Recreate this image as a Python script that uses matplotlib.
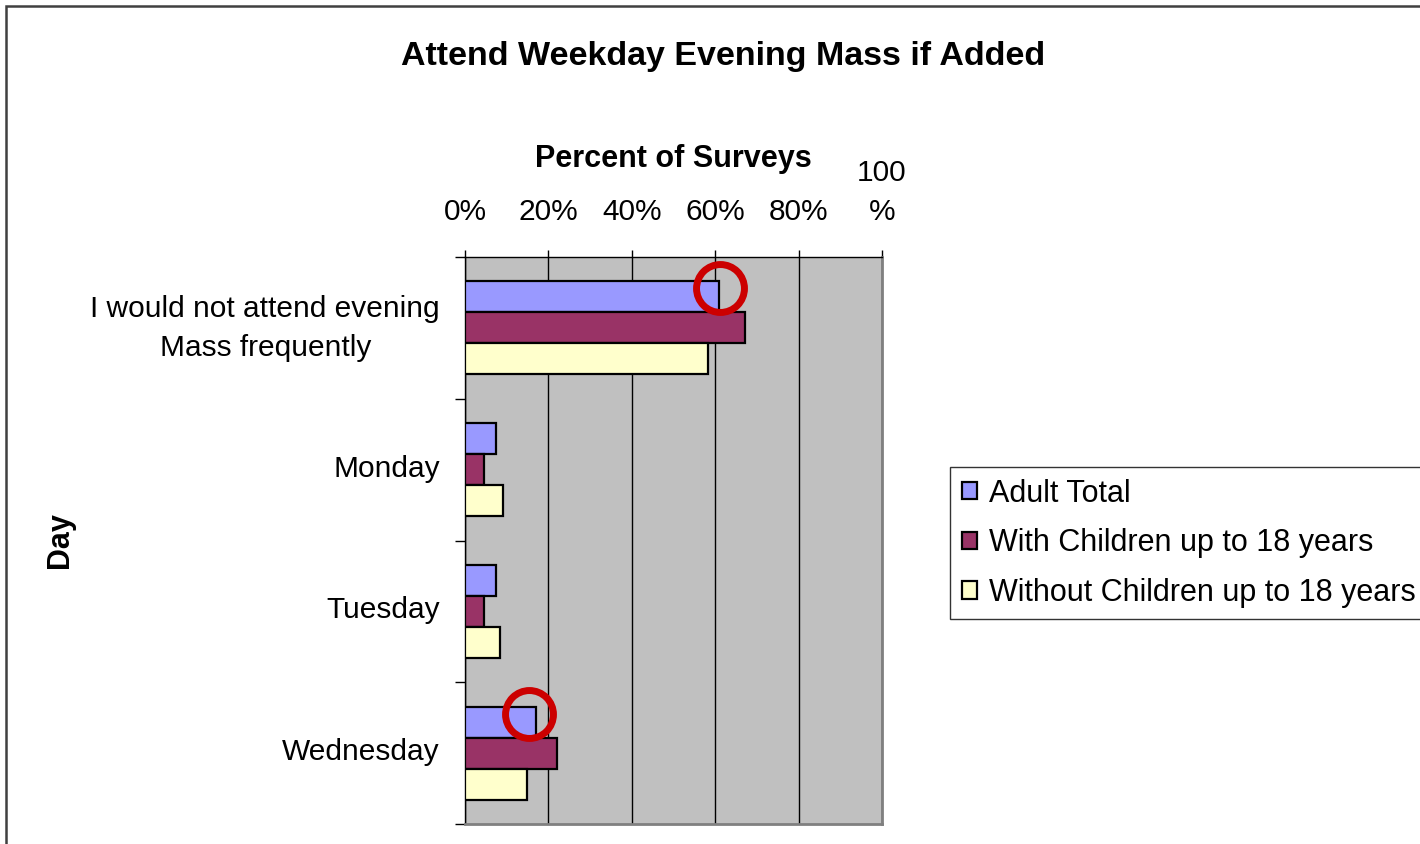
import numpy as np
import matplotlib
matplotlib.use("Agg")
import matplotlib.pyplot as plt
import matplotlib.transforms as mtransforms
from matplotlib.patches import Rectangle

plt.rcParams["font.family"] = ["Liberation Sans", "DejaVu Sans"]

# data
categories = ["I would not attend evening\nMass frequently", "Monday", "Tuesday", "Wednesday"]
series_names = ["Adult Total", "With Children up to 18 years", "Without Children up to 18 years"]
adult_total = [61.0, 7.4, 7.4, 17.0]
with_children = [67.2, 4.6, 4.6, 22.0]
without_children = [58.2, 9.0, 8.5, 14.8]
x_ticks = [0, 20, 40, 60, 80, 100]
x_tick_labels = ["0%", "20%", "40%", "60%", "80%", "100\n%"]
# red circles drawn on the chart (category index, percent)
highlights = [(0, 61.2), (3, 15.4)]

colors = ["#9999FF", "#993366", "#FFFFCC"]
series = [adult_total, with_children, without_children]

fig = plt.figure(figsize=(14.2, 8.44), dpi=100)
ax = fig.add_axes([465 / 1420, 1 - 824 / 844, 417 / 1420, 567 / 844])
ax.set_facecolor("#C0C0C0")

y = np.arange(len(categories))
h = 0.2187
for i, (vals, col, name) in enumerate(zip(series, colors, series_names)):
    ax.barh(y + (i - 1) * h, vals, height=h, color=col, edgecolor="black",
            linewidth=1.6, label=name, zorder=3)

ax.set_xlim(0, 100)
ax.set_ylim(len(categories) - 0.5, -0.5)

# x axis on top
ax.xaxis.tick_top()
ax.xaxis.set_label_position("top")
ax.set_xticks(x_ticks)
ax.set_xticklabels(x_tick_labels, fontsize=21.5, linespacing=1.5)
ax.tick_params(axis="x", direction="out", length=5, width=1, pad=17)
ax.grid(axis="x", color="black", linewidth=1, zorder=1)
ax.set_axisbelow(True)

# y ticks at category boundaries, labels at centres
ax.set_yticks(np.arange(len(categories) + 1) - 0.5)
ax.set_yticklabels([])
ax.tick_params(axis="y", which="major", direction="out", length=7, width=1)
ax.set_yticks(y, minor=True)
ax.set_yticklabels(categories, minor=True, fontsize=21.5, multialignment="center",
                   linespacing=1.5)
ax.tick_params(axis="y", which="minor", length=0, pad=18)
for lbl in ax.get_yticklabels(minor=True):
    shift = 8 if "\n" in lbl.get_text() else 4
    lbl.set_transform(lbl.get_transform() +
                      mtransforms.ScaledTranslation(0, shift / 100, fig.dpi_scale_trans))

for side in ["left", "top"]:
    ax.spines[side].set_color("black")
    ax.spines[side].set_linewidth(1)
for side in ["right", "bottom"]:
    ax.spines[side].set_color("#808080")
    ax.spines[side].set_linewidth(2)

ax.set_xlabel("Percent of Surveys", fontsize=22, fontweight="bold")
ax.xaxis.set_label_coords(0.5, 1.159)
ax.set_ylabel("Day", fontsize=22, fontweight="bold")
ax.yaxis.set_label_coords(-0.936, 0.5)

for cat, val in highlights:
    ax.plot(val, cat - h - 0.06, marker="o", markersize=34.5, markerfacecolor="none",
            markeredgecolor="#CC0000", markeredgewidth=5, zorder=5, clip_on=False)

fig.text(0.509, 1 - 57 / 844, "Attend Weekday Evening Mass if Added",
         fontsize=24.5, fontweight="bold", ha="center", va="center")

leg = fig.legend(loc="upper left", bbox_to_anchor=(950 / 1420, 1 - 467 / 844),
                 fontsize=22, frameon=True, fancybox=False, borderaxespad=0,
                 handlelength=0.5, handleheight=0.5, handletextpad=0.4,
                 labelspacing=0.64, borderpad=0.38)
leg.get_frame().set_edgecolor("black")
leg.get_frame().set_linewidth(1)

# chart frame
fig.patches.append(Rectangle((6 / 1420, -0.1), 1.2, 1.1 - 6 / 844, transform=fig.transFigure,
                             fill=False, edgecolor="#404040", linewidth=1.8))

fig.savefig("out.png", dpi=100)
